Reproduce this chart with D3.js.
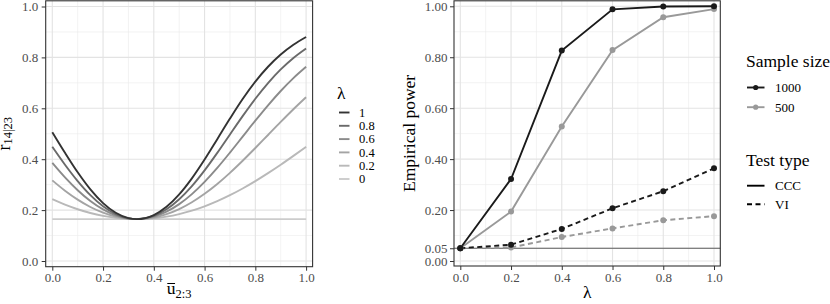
<!DOCTYPE html>
<html><head><meta charset="utf-8">
<script src="https://cdn.jsdelivr.net/npm/d3@7"></script>
<style>body{margin:0;background:#fff} svg{display:block} text{font-family:"Liberation Serif","Times New Roman",serif}</style>
</head><body><svg id="c" width="830" height="304"></svg>
<script>
// ---------- Left panel data ----------
const uBar = [0,0.05,0.1,0.15,0.2,0.25,0.3,0.3333,0.4,0.45,0.5,0.55,0.6,0.65,0.7,0.75,0.8,0.85,0.9,0.95,1];
const lambdaLevels = ["1","0.8","0.6","0.4","0.2","0"];
const r_lambda1  = [0.5059,0.4250,0.3484,0.2813,0.2274,0.1894,0.1685,0.1645,0.1805,0.2129,0.2617,0.3247,0.3987,0.4788,0.5595,0.6363,0.7049,0.7633,0.8114,0.8498,0.8802];
const r_lambda08 = [0.4487,0.3782,0.3139,0.2586,0.2150,0.1844,0.1677,0.1645,0.1773,0.2033,0.2428,0.2942,0.3560,0.4248,0.4972,0.5692,0.6374,0.6990,0.7527,0.7979,0.8352];
const r_lambda06 = [0.3856,0.3286,0.2782,0.2357,0.2026,0.1795,0.1669,0.1645,0.1741,0.1937,0.2235,0.2629,0.3110,0.3659,0.4261,0.4887,0.5514,0.6118,0.6680,0.7186,0.7630];
const r_lambda04 = [0.3168,0.2763,0.2413,0.2123,0.1899,0.1745,0.1661,0.1645,0.1709,0.1840,0.2041,0.2308,0.2639,0.3026,0.3463,0.3938,0.4439,0.4952,0.5464,0.5962,0.6435];
const r_lambda02 = [0.2428,0.2213,0.2033,0.1885,0.1773,0.1695,0.1653,0.1645,0.1677,0.1743,0.1844,0.1980,0.2150,0.2353,0.2586,0.2850,0.3139,0.3451,0.3782,0.4130,0.4487];
const r_lambda0  = [0.1645,0.1645,0.1645,0.1645,0.1645,0.1645,0.1645,0.1645,0.1645,0.1645,0.1645,0.1645,0.1645,0.1645,0.1645,0.1645,0.1645,0.1645,0.1645,0.1645,0.1645];
const leftXTicks = ["0.0","0.2","0.4","0.6","0.8","1.0"];
const leftYTicks = ["0.0","0.2","0.4","0.6","0.8","1.0"];

// ---------- Right panel data ----------
const lambdaPts = [0,0.2,0.4,0.6,0.8,1];
const ccc1000 = [0.050,0.322,0.826,0.988,0.999,1.000];
const ccc500  = [0.050,0.194,0.528,0.828,0.957,0.989];
const vi1000  = [0.050,0.064,0.126,0.207,0.274,0.364];
const vi500   = [0.050,0.053,0.094,0.128,0.160,0.176];
const sampleSizes = ["1000","500"];
const testTypes = ["CCC","VI"];
const rightXTicks = ["0.0","0.2","0.4","0.6","0.8","1.0"];
const rightYTicks = ["0.00","0.05","0.20","0.40","0.60","0.80","1.00"];
const nominalLevel = 0.05;

const greyScale = {"1":"#333333","0.8":"#6a6a6a","0.6":"#8b8b8b","0.4":"#a4a4a4","0.2":"#b9b9b9","0":"#cccccc"};
const sizeColor = {"1000":"#1a1a1a","500":"#999999"};
const typeDash = {"CCC":null,"VI":"5,3.5"};

const svg = d3.select("#c");
svg.append("rect").attr("width",830).attr("height",304).attr("fill","#fff");

const FONT = "Liberation Serif";
const TICK_FONT = 13, TITLE_FONT = 17.5, LEG_FONT_L = 12.5, LEG_FONT_R = 13;

function drawPanel(o){
  const g = svg.append("g");
  const [px0,px1] = o.px, [py0,py1] = o.py;
  g.append("rect").attr("x",px0).attr("y",py0).attr("width",px1-px0).attr("height",py1-py0).attr("fill","#fff");
  o.xMinor.forEach(v=>g.append("line").attr("x1",o.x(v)).attr("x2",o.x(v)).attr("y1",py0).attr("y2",py1).attr("stroke","#ebebeb").attr("stroke-width",0.6));
  o.yMinor.forEach(v=>g.append("line").attr("y1",o.y(v)).attr("y2",o.y(v)).attr("x1",px0).attr("x2",px1).attr("stroke","#ebebeb").attr("stroke-width",0.6));
  o.xMajor.forEach(v=>g.append("line").attr("x1",o.x(v)).attr("x2",o.x(v)).attr("y1",py0).attr("y2",py1).attr("stroke","#e3e3e3").attr("stroke-width",1.1));
  o.yMajor.forEach(v=>g.append("line").attr("y1",o.y(v)).attr("y2",o.y(v)).attr("x1",px0).attr("x2",px1).attr("stroke","#e3e3e3").attr("stroke-width",1.1));
  return g;
}
function styleAxis(ax){
  ax.attr("font-family",FONT);
  ax.select(".domain").remove();
  ax.selectAll(".tick line").attr("stroke","#333").attr("stroke-width",1);
  ax.selectAll(".tick text").attr("fill","#4d4d4d").style("font-family",FONT).style("font-size",TICK_FONT+"px");
}
function border(x0,x1,y0,y1){
  svg.append("rect").attr("x",x0).attr("y",y0).attr("width",x1-x0).attr("height",y1-y0).attr("fill","none").attr("stroke","#333").attr("stroke-width",1.1);
}

// ================= LEFT PANEL =================
const xL = d3.scaleLinear().domain([0,1]).range([52.3,306.1]);
const yL = d3.scaleLinear().domain([0,1]).range([261,6.5]);
const LP = {px:[45.7,312.6], py:[0.8,266.7]};
const gL = drawPanel({px:LP.px, py:LP.py, x:xL, y:yL,
  xMajor:leftXTicks.map(Number), yMajor:leftYTicks.map(Number),
  xMinor:[0.1,0.3,0.5,0.7,0.9], yMinor:[0.1,0.3,0.5,0.7,0.9]});
const leftSeries = {"1":r_lambda1,"0.8":r_lambda08,"0.6":r_lambda06,"0.4":r_lambda04,"0.2":r_lambda02,"0":r_lambda0};
const lineL = d3.line().x(d=>xL(d[0])).y(d=>yL(d[1])).curve(d3.curveMonotoneX);
lambdaLevels.slice().reverse().forEach(k=>{
  gL.append("path").datum(uBar.map((u,i)=>[u,leftSeries[k][i]]))
    .attr("d",lineL).attr("fill","none").attr("stroke",greyScale[k]).attr("stroke-width",1.9);
});
border(LP.px[0],LP.px[1],LP.py[0],LP.py[1]);
const axLx = svg.append("g").attr("transform",`translate(0,${LP.py[1]})`)
  .call(d3.axisBottom(xL).tickValues(leftXTicks.map(Number)).tickFormat((d,i)=>leftXTicks[i]).tickSize(4).tickPadding(2.5));
styleAxis(axLx);
const axLy = svg.append("g").attr("transform",`translate(${LP.px[0]},0)`)
  .call(d3.axisLeft(yL).tickValues(leftYTicks.map(Number)).tickFormat((d,i)=>leftYTicks[i]).tickSize(4).tickPadding(3.5));
styleAxis(axLy);

// left x title: u-bar with subscript 2:3
(function(){
  const cx = (LP.px[0]+LP.px[1])/2, by = 294;
  const t = svg.append("text").attr("y",by).attr("font-size",TITLE_FONT);
  const tu = t.append("tspan").text("u");
  t.append("tspan").attr("font-size",12.5).attr("dy",4).text("2:3");
  const w = t.node().getComputedTextLength();
  const x0 = cx - w/2;
  t.attr("x",x0);
  const wu = tu.node().getComputedTextLength();
  svg.append("line").attr("x1",x0+0.5).attr("x2",x0+wu-0.5).attr("y1",by-10.5).attr("y2",by-10.5).attr("stroke","#000").attr("stroke-width",1);
})();
// left y title: r_{14|23}
(function(){
  const cy = (LP.py[0]+LP.py[1])/2;
  const t = svg.append("text").attr("transform",`translate(9.5,${cy}) rotate(-90)`).attr("text-anchor","middle").attr("font-size",18);
  t.append("tspan").text("r");
  t.append("tspan").attr("font-size",12.5).attr("dy",2).text("14|23");
})();

// left legend
(function(){
  svg.append("text").attr("x",337).attr("y",98.5).attr("font-size",TITLE_FONT).text("λ");
  lambdaLevels.forEach((k,i)=>{
    const cy = 112.5 + i*13.3;
    svg.append("line").attr("x1",339).attr("x2",349.5).attr("y1",cy).attr("y2",cy).attr("stroke",greyScale[k]).attr("stroke-width",1.9);
    svg.append("text").attr("x",359).attr("y",cy+4.3).attr("font-size",LEG_FONT_L).text(k);
  });
})();

// ================= RIGHT PANEL =================
const xR = d3.scaleLinear().domain([0,1]).range([460.3,714]);
const yR = d3.scaleLinear().domain([0,1]).range([261,6.3]);
const RP = {px:[454,720.3], py:[0.8,266]};
const gR = drawPanel({px:RP.px, py:RP.py, x:xR, y:yR,
  xMajor:rightXTicks.map(Number), yMajor:rightYTicks.map(Number),
  xMinor:[0.1,0.3,0.5,0.7,0.9], yMinor:[0.1,0.3,0.5,0.7,0.9]});
gR.append("line").attr("x1",RP.px[0]).attr("x2",RP.px[1]).attr("y1",yR(nominalLevel)).attr("y2",yR(nominalLevel))
  .attr("stroke","#4d4d4d").attr("stroke-width",0.9);
const series = [
  {size:"500", type:"VI", vals:vi500},
  {size:"500", type:"CCC", vals:ccc500},
  {size:"1000", type:"VI", vals:vi1000},
  {size:"1000", type:"CCC", vals:ccc1000}
];
const lineR = d3.line().x(d=>xR(d[0])).y(d=>yR(d[1]));
series.forEach(s=>{
  const pts = lambdaPts.map((l,i)=>[l,s.vals[i]]);
  gR.append("path").datum(pts).attr("d",lineR).attr("fill","none")
    .attr("stroke",sizeColor[s.size]).attr("stroke-width",1.9).attr("stroke-dasharray",typeDash[s.type]);
});
series.forEach(s=>{
  const pts = lambdaPts.map((l,i)=>[l,s.vals[i]]);
  gR.selectAll(null).data(pts).enter().append("circle").attr("cx",d=>xR(d[0])).attr("cy",d=>yR(d[1])).attr("r",3)
    .attr("fill",sizeColor[s.size]);
});
border(RP.px[0],RP.px[1],RP.py[0],RP.py[1]);
const axRx = svg.append("g").attr("transform",`translate(0,${RP.py[1]})`)
  .call(d3.axisBottom(xR).tickValues(rightXTicks.map(Number)).tickFormat((d,i)=>rightXTicks[i]).tickSize(4).tickPadding(2.5));
styleAxis(axRx);
const axRy = svg.append("g").attr("transform",`translate(${RP.px[0]},0)`)
  .call(d3.axisLeft(yR).tickValues(rightYTicks.map(Number)).tickFormat((d,i)=>rightYTicks[i]).tickSize(4).tickPadding(2.5));
styleAxis(axRy);
svg.append("text").attr("x",(RP.px[0]+RP.px[1])/2).attr("y",298).attr("text-anchor","middle").attr("font-size",TITLE_FONT).text("λ");
svg.append("text").attr("transform",`translate(415,${(RP.py[0]+RP.py[1])/2}) rotate(-90)`).attr("text-anchor","middle").attr("font-size",TITLE_FONT).text("Empirical power");

// right legends
(function(){
  svg.append("text").attr("x",746).attr("y",67).attr("font-size",TITLE_FONT).text("Sample size");
  sampleSizes.forEach((k,i)=>{
    const cy = 87.5 + i*19.7;
    svg.append("line").attr("x1",747).attr("x2",764.5).attr("y1",cy).attr("y2",cy).attr("stroke",sizeColor[k]).attr("stroke-width",1.9);
    svg.append("circle").attr("cx",755.7).attr("cy",cy).attr("r",2.6).attr("fill",sizeColor[k]);
    svg.append("text").attr("x",775).attr("y",cy+4.5).attr("font-size",LEG_FONT_R).text(k);
  });
  svg.append("text").attr("x",746).attr("y",165.5).attr("font-size",TITLE_FONT).text("Test type");
  testTypes.forEach((k,i)=>{
    const cy = 185.7 + i*18.6;
    svg.append("line").attr("x1",747).attr("x2",764.5).attr("y1",cy).attr("y2",cy).attr("stroke","#000").attr("stroke-width",1.9).attr("stroke-dasharray",typeDash[k]);
    svg.append("text").attr("x",775).attr("y",cy+4.5).attr("font-size",LEG_FONT_R).text(k);
  });
})();
</script></body></html>
